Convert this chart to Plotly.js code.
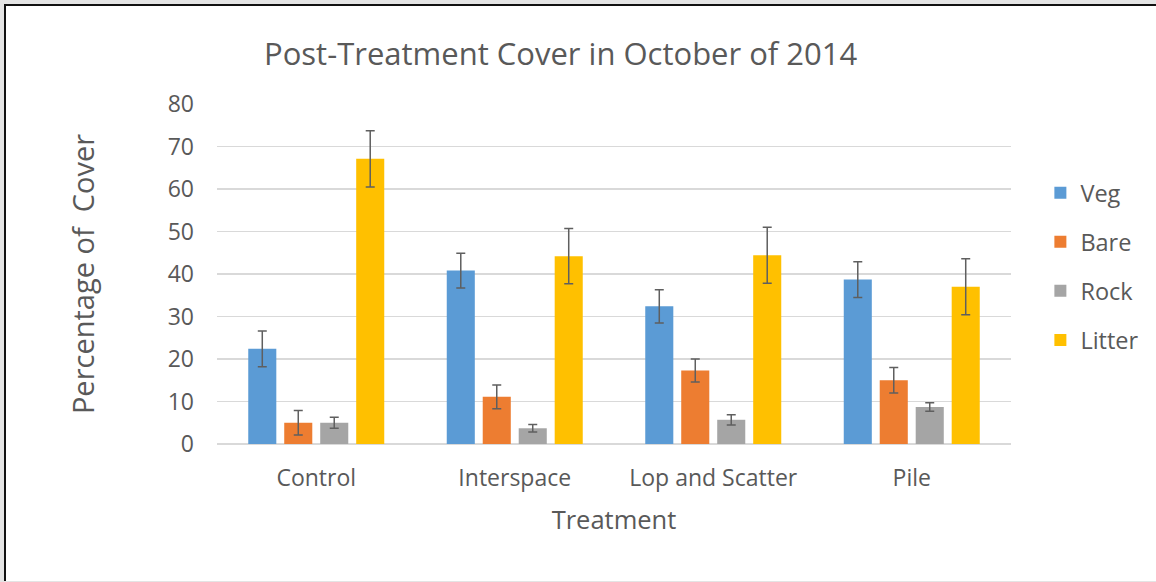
<!DOCTYPE html>
<html>
<head>
<meta charset="utf-8">
<script src="https://cdn.plot.ly/plotly-3.0.1.min.js"></script>
<style>
html,body{margin:0;padding:0;background:#e4e4e4;width:1156px;height:582px;overflow:hidden;}
#frame{position:absolute;left:4px;top:4px;width:1152px;height:575px;background:#fff;border-left:2px solid #111;border-top:2px solid #111;}
#chart{position:absolute;left:-6px;top:-6px;width:1156px;height:582px;}
</style>
</head>
<body>
<div id="frame"><div id="chart"></div></div>
<script>
var categories = ["Control", "Interspace", "Lop and Scatter", "Pile"];
var seriesNames = ["Veg", "Bare", "Rock", "Litter"];
var veg = [22.4, 40.8, 32.4, 38.7];
var vegErr = [4.2, 4.1, 3.9, 4.2];
var bare = [5.0, 11.1, 17.3, 15.0];
var bareErr = [2.9, 2.8, 2.7, 3.0];
var rock = [5.0, 3.7, 5.7, 8.7];
var rockErr = [1.3, 0.9, 1.2, 1.0];
var litter = [67.1, 44.2, 44.4, 37.0];
var litterErr = [6.6, 6.5, 6.6, 6.6];
var yTicks = [0, 10, 20, 30, 40, 50, 60, 70, 80];

var colors = ["#5B9BD5", "#ED7D31", "#A5A5A5", "#FFC000"];
var values = [veg, bare, rock, litter];
var errs = [vegErr, bareErr, rockErr, litterErr];
var FONT = "Open Sans, sans-serif";
var GREY = "#595959";

var traces = seriesNames.map(function(name, i){
  return {
    type: "bar",
    name: name,
    x: categories,
    y: values[i],
    legendgroup: name,
    marker: {color: colors[i]},
    error_y: {type: "data", array: errs[i], visible: true, color: "#5f5f5f", thickness: 1.5, width: 4.5}
  };
});

var layout = {
  width: 1156, height: 582,
  paper_bgcolor: "rgba(0,0,0,0)",
  plot_bgcolor: "rgba(0,0,0,0)",
  margin: {l: 217, r: 145, t: 104, b: 138},
  barmode: "group",
  bargap: 0.275,
  bargroupgap: 0.22,
  font: {family: FONT, color: GREY},
  title: {text: "Post-Treatment Cover in October of 2014", font: {family: FONT, size: 31, color: GREY}, x: 0.485, xanchor: "center", y: 0.907, yanchor: "middle"},
  xaxis: {
    title: {text: "Treatment", font: {family: FONT, size: 25.5, color: GREY}, standoff: 19},
    tickfont: {family: FONT, size: 23, color: GREY},
    showline: false, showgrid: false, ticks: "", ticklen: 0, ticklabelstandoff: 18
  },
  yaxis: {
    title: {text: "Percentage of &nbsp;Cover", font: {family: FONT, size: 29, color: GREY}, standoff: 64},
    range: [0, 80], tickvals: yTicks,
    tickfont: {family: FONT, size: 23, color: GREY},
    showgrid: true, gridcolor: "#d9d9d9", gridwidth: 1.5,
    zeroline: true, zerolinecolor: "#d9d9d9", zerolinewidth: 1.5,
    showline: false, ticks: "", ticklabelstandoff: 22
  },
  legend: {
    x: 1.037, xanchor: "left", y: 0.803, yanchor: "top",
    font: {family: FONT, size: 23.5, color: GREY},
    tracegroupgap: 15.5, itemwidth: 30,
    bgcolor: "rgba(0,0,0,0)"
  },
  showlegend: true
};

Plotly.newPlot("chart", traces, layout, {displayModeBar: false, staticPlot: true});
</script>
</body>
</html>
